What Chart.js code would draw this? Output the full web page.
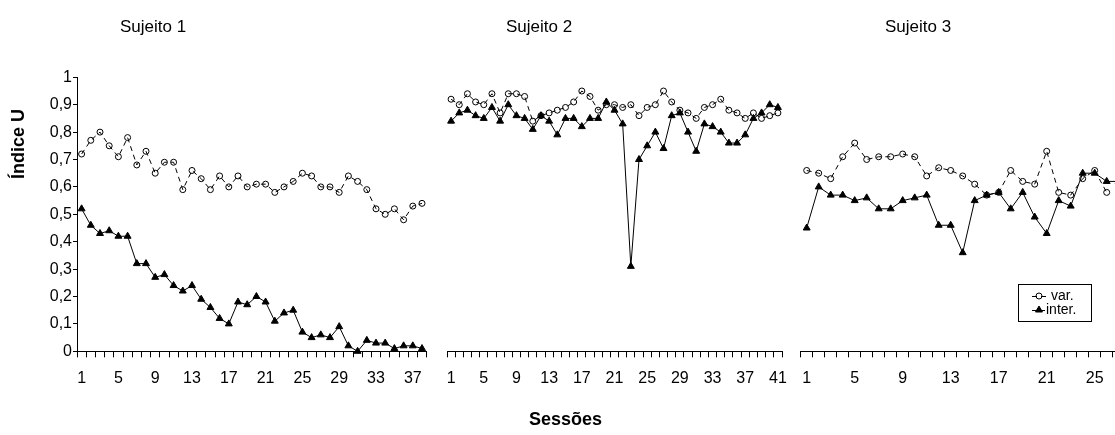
<!DOCTYPE html>
<html><head><meta charset="utf-8">
<script src="https://cdn.jsdelivr.net/npm/chart.js@4.4.0/dist/chart.umd.min.js"></script>
<style>
html,body{margin:0;padding:0;background:#fff;}
body{width:1115px;height:435px;overflow:hidden;position:relative;font-family:"Liberation Sans",Arial,sans-serif;color:#000;}
canvas{position:absolute;top:0;}
.t{position:absolute;white-space:nowrap;font-size:17px;line-height:20px;}
.b{font-weight:bold;font-size:18px;}
</style></head><body>
<canvas id="c1" width="440" height="435" style="left:0px"></canvas>
<canvas id="c2" width="370" height="435" style="left:430px"></canvas>
<canvas id="c3" width="360" height="435" style="left:785px"></canvas>
<div class="t" style="left:120px;top:17px">Sujeito 1</div>
<div class="t" style="left:506px;top:17px">Sujeito 2</div>
<div class="t" style="left:885px;top:17px">Sujeito 3</div>
<div class="t b" style="left:529px;top:409px">Sessões</div>
<div class="t b" style="left:-22px;top:134px;transform:rotate(-90deg);transform-origin:50% 50%;width:80px;text-align:center">Índice U</div>
<script>
// ---- data ----
const s1Var   = [0.72,0.77,0.80,0.75,0.71,0.78,0.68,0.73,0.65,0.69,0.69,0.59,0.66,0.63,0.59,0.64,0.60,0.64,0.60,0.61,0.61,0.58,0.60,0.62,0.65,0.64,0.60,0.60,0.58,0.64,0.62,0.59,0.52,0.50,0.52,0.48,0.53,0.54];
const s1Inter = [0.52,0.46,0.43,0.44,0.42,0.42,0.32,0.32,0.27,0.28,0.24,0.22,0.24,0.19,0.16,0.12,0.10,0.18,0.17,0.20,0.18,0.11,0.14,0.15,0.07,0.05,0.06,0.05,0.09,0.02,0.00,0.04,0.03,0.03,0.01,0.02,0.02,0.01];
const s2Var   = [0.92,0.90,0.94,0.91,0.90,0.94,0.87,0.94,0.94,0.93,0.84,0.86,0.87,0.88,0.89,0.91,0.95,0.93,0.88,0.90,0.90,0.89,0.90,0.86,0.89,0.90,0.95,0.91,0.88,0.87,0.85,0.89,0.90,0.92,0.88,0.87,0.85,0.87,0.85,0.86,0.87];
const s2Inter = [0.84,0.87,0.88,0.86,0.85,0.89,0.84,0.90,0.86,0.85,0.81,0.86,0.84,0.79,0.85,0.85,0.82,0.85,0.85,0.91,0.88,0.83,0.31,0.70,0.75,0.80,0.74,0.86,0.87,0.80,0.73,0.83,0.82,0.80,0.76,0.76,0.79,0.85,0.87,0.90,0.89];
const s3Var   = [0.66,0.65,0.63,0.71,0.76,0.70,0.71,0.71,0.72,0.71,0.64,0.67,0.66,0.64,0.61,0.57,0.58,0.66,0.62,0.61,0.73,0.58,0.57,0.63,0.66,0.58,null];
const s3Inter = [0.45,0.60,0.57,0.57,0.55,0.56,0.52,0.52,0.55,0.56,0.57,0.46,0.46,0.36,0.55,0.57,0.58,0.52,0.58,0.49,0.43,0.55,0.53,0.65,0.65,0.62,0.62];
const xTickLabels = ['1','5','9','13','17','21','25','29','33','37','41'];
const yTickLabels = ['0','0,1','0,2','0,3','0,4','0,5','0,6','0,7','0,8','0,9','1'];
const seriesNames = ['var.','inter.'];

const FONT = '"Liberation Sans", Arial, sans-serif';
const cats = n => Array.from({length:n}, (_, i) => String(i + 1));

function datasets(v, it) {
  return [
    {label: seriesNames[0], data: v, borderColor:'#000', borderWidth:1, borderDash:[5,4],
     pointStyle:'circle', pointRadius:3, pointBorderWidth:1, pointBorderColor:'#000',
     pointBackgroundColor:'rgba(0,0,0,0)', clip:false, spanGaps:false},
    {label: seriesNames[1], data: it, borderColor:'#000', borderWidth:1,
     pointStyle:'triangle', pointRadius:4, pointBorderWidth:1, pointBorderColor:'#000',
     pointBackgroundColor:'#000', clip:false}
  ];
}

function xScale() {
  return {
    type:'category', offset:true,
    grid:{display:true, offset:true, drawOnChartArea:false, drawTicks:true, tickLength:6, color:'#000', lineWidth:1},
    border:{display:true, color:'#000', width:1},
    ticks:{autoSkip:false, maxRotation:0, minRotation:0, padding:12, color:'#000',
      font:{family:FONT, size:16},
      callback:function(val){ const l = this.getLabelForValue(val); return xTickLabels.includes(l) ? l : ''; }},
    afterFit: s => { s.height = 40; }
  };
}

function yScale(show) {
  const sc = {
    min:0, max:1, display: show,
    grid:{display:true, drawOnChartArea:false, drawTicks:true, tickLength:4, color:'#000'},
    border:{display:true, color:'#000', width:1},
    ticks:{stepSize:0.1, padding:1, color:'#000', font:{family:FONT, size:16},
      callback:(v, i) => yTickLabels[i]}
  };
  if (show) sc.afterFit = s => { s.width = 77; };
  return sc;
}

const legendBox = {
  id:'legendBox',
  afterDraw(chart) {
    const ctx = chart.ctx;
    const ox = 785;
    const x0 = 1018 - ox, y0 = 284, w = 73, h = 37;
    ctx.save();
    ctx.fillStyle = '#fff';
    ctx.fillRect(x0, y0, w, h);
    ctx.strokeStyle = '#000'; ctx.lineWidth = 1;
    ctx.strokeRect(x0 + 0.5, y0 + 0.5, w, h);
    chart.data.datasets.forEach((ds, i) => {
      const cy = y0 + 12 + i * 14;
      ctx.strokeStyle = '#000';
      ctx.setLineDash(ds.borderDash || []);
      ctx.beginPath();
      ctx.moveTo(x0 + 14, cy + 0.5);
      ctx.lineTo(x0 + (i === 0 ? 31 : 27), cy + 0.5);
      ctx.stroke();
      ctx.setLineDash([]);
      ctx.fillStyle = ds.pointBackgroundColor;
      Chart.helpers.drawPoint(ctx, {pointStyle: ds.pointStyle, radius: ds.pointRadius, borderWidth: 1, rotation: 0}, x0 + 21, cy);
      ctx.fillStyle = '#000';
      ctx.font = '14px ' + FONT;
      ctx.textBaseline = 'middle';
      ctx.fillText(ds.label, x0 + (i === 0 ? 33 : 28), cy);
    });
    ctx.restore();
  }
};

function make(id, v, it, opts, plugins) {
  return new Chart(document.getElementById(id), {
    type:'line',
    data:{labels: cats(Math.max(v.length, it.length)), datasets: datasets(v, it)},
    options:Object.assign({
      responsive:false, animation:false, events:[],
      plugins:{legend:{display:false}, tooltip:{enabled:false}, title:{display:false}},
    }, opts),
    plugins: plugins || []
  });
}

make('c1', s1Var, s1Inter, {
  layout:{padding:{left:0, right:13.4, top:77.3, bottom:43.7}},
  scales:{x:xScale(), y:yScale(true)}
});
make('c2', s2Var, s2Inter, {
  layout:{padding:{left:17, right:18, top:77.3, bottom:43.7}},
  scales:{x:xScale(), y:yScale(false)}
});
make('c3', s3Var, s3Inter, {
  layout:{padding:{left:15.7, right:20.3, top:77.3, bottom:43.7}},
  scales:{x:xScale(), y:yScale(false)}
}, [legendBox]);
</script>
</body></html>
